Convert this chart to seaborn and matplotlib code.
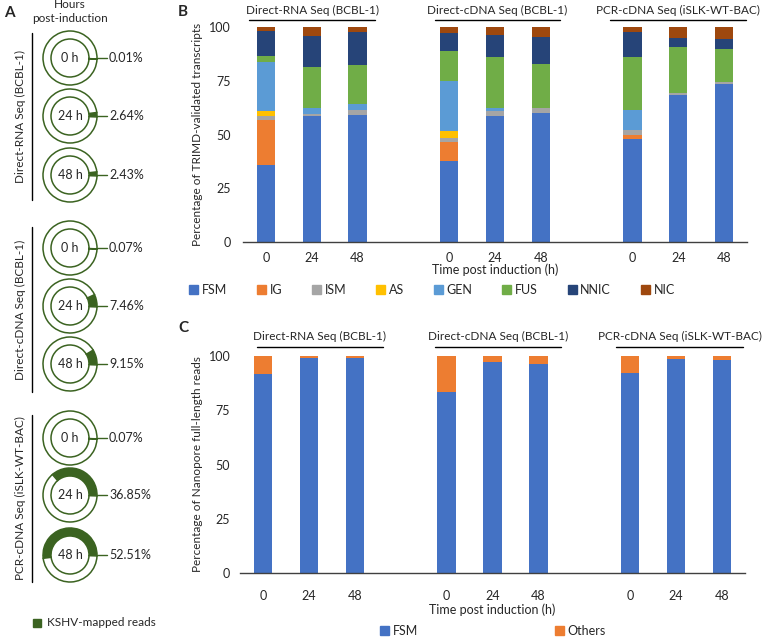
import numpy as np
import pandas as pd
import seaborn as sns
import matplotlib.pyplot as plt
from matplotlib.patches import Patch

sns.set_style("white")
plt.rcParams["font.family"] = ["Lato", "DejaVu Sans"]

W, H = 766, 640

# ── Data ──────────────────────────────────────────────────────────────────────
samples = ["R0", "R24", "R48", "C0", "C24", "C48", "P0", "P24", "P48"]
hours = ["0", "24", "48"] * 3
groups = ["Direct-RNA Seq (BCBL-1)", "Direct-cDNA Seq (BCBL-1)",
          "PCR-cDNA Seq (iSLK-WT-BAC)"]

# panel A: share of KSHV-mapped reads
kshv_pct = [0.01, 2.64, 2.43, 0.07, 7.46, 9.15, 0.07, 36.85, 52.51]
ring_hours = ["0 h", "24 h", "48 h"] * 3

# panel B: TRIMD-validated transcript classes (segment heights, %)
classes = ["FSM", "IG", "ISM", "AS", "GEN", "FUS", "NNIC", "NIC"]
fsm  = [35.6, 58.4, 59.1, 37.8, 58.7, 60.2, 47.8, 68.6, 73.4]
ig   = [21.2, 0.0, 0.0, 8.6, 0.0, 0.0, 2.2, 0.0, 0.0]
ism  = [1.9, 1.2, 2.4, 2.2, 2.3, 2.3, 2.2, 0.7, 1.2]
as_  = [2.3, 0.0, 0.0, 2.8, 0.0, 0.0, 0.0, 0.0, 0.0]
gen  = [22.6, 2.6, 2.7, 23.7, 1.4, 0.0, 9.3, 0.0, 0.0]
fus  = [2.9, 19.1, 18.0, 13.9, 23.5, 20.3, 24.7, 21.3, 15.2]
nnic = [11.6, 14.7, 15.5, 8.4, 10.4, 12.7, 11.3, 4.3, 4.6]
nic  = [1.9, 4.0, 2.3, 2.6, 3.7, 4.5, 2.5, 5.1, 5.6]

# panel C: full-length reads
reads_fsm    = [91.7, 99.2, 99.1, 83.6, 97.1, 96.5, 92.3, 98.6, 98.3]
reads_others = [8.3, 0.8, 0.9, 16.4, 2.9, 3.5, 7.7, 1.4, 1.7]

colors = {"FSM": "#4472C4", "IG": "#ED7D31", "ISM": "#A5A5A5", "AS": "#FFC000",
          "GEN": "#5B9BD5", "FUS": "#70AD47", "NNIC": "#264478", "NIC": "#9E480E",
          "Others": "#ED7D31"}
GREEN = "#3B6321"

# category order with empty slots between the three groups
order = ["R0", "R24", "R48", "gap1", "C0", "C24", "C48", "gap2", "P0", "P24", "P48"]
tick_pos = [0, 1, 2, 4, 5, 6, 8, 9, 10]


def stacked(ax, seg_table, names):
    rows = []
    for i, s in enumerate(samples):
        top = 0.0
        for name in names:
            top += seg_table[name][i]
            rows.append({"sample": s, "cls": name, "top": top})
    df = pd.DataFrame(rows)
    # draw cumulative tops from the highest down so each layer covers the next
    for name in reversed(names):
        sns.barplot(data=df[df["cls"] == name], x="sample", y="top", order=order,
                    color=colors[name], saturation=1, width=0.4, errorbar=None,
                    linewidth=0, ax=ax)


def style(ax, ypad, xpad, ylabel):
    ax.set_ylim(0, 100)
    ax.set_xlim(-0.5, 10.5)
    ax.set_yticks([0, 25, 50, 75, 100])
    ax.set_xticks(tick_pos, hours)
    ax.tick_params(axis="both", length=0, labelsize=9)
    ax.tick_params(axis="y", pad=ypad)
    ax.tick_params(axis="x", pad=xpad)
    for sp in ["top", "right", "left"]:
        ax.spines[sp].set_visible(False)
    ax.spines["bottom"].set_color("#404040")
    ax.spines["bottom"].set_linewidth(1.0)
    ax.set_ylabel(ylabel, fontsize=8.5, labelpad=4)


def headers(ax, spans, ty, ly):
    trans = ax.get_xaxis_transform()
    for name, (x0, x1) in zip(groups, spans):
        ax.text((x0 + x1) / 2, ty, name, transform=trans, ha="center", va="center",
                fontsize=8.5, clip_on=False)
        ax.plot([x0, x1], [ly, ly], color="black", lw=1, transform=trans, clip_on=False)


fig = plt.figure(figsize=(W / 100, H / 100), dpi=100)

# ── Panel A (pixel-coordinate overlay) ───────────────────────────────────────
axA = fig.add_axes([0, 0, 1, 1])
axA.set_facecolor("none")
ring_y = [58, 116, 175, 248, 306, 364, 438, 495, 555]
cx, r_out, r_in = 70, 27, 19
for p, lab, y in zip(kshv_pct, ring_hours, ring_y):
    yy = H - y
    axA.pie([p, 100 - p], center=(cx, yy), radius=r_out, startangle=-2,
            counterclock=True, colors=[GREEN, "white"], frame=True,
            wedgeprops=dict(width=r_out - r_in, edgecolor=GREEN, linewidth=1.1))
    axA.text(cx, yy, lab, ha="center", va="center", fontsize=9)
    axA.plot([cx + r_out, cx + r_out + 10], [yy, yy], color=GREEN, lw=1)
    axA.text(cx + r_out + 12, yy, f"{p:.2f}%", ha="left", va="center", fontsize=9)

for name, (y0, y1) in zip(groups, [(33, 200), (227, 392), (415, 582)]):
    axA.plot([32, 32], [H - y0, H - y1], color="black", lw=1)
    axA.text(20, H - (y0 + y1) / 2, name, rotation=90, ha="center", va="center",
             fontsize=8.5)

axA.text(70, H - 5, "Hours", ha="center", va="center", fontsize=8.5)
axA.text(70, H - 19, "post-induction", ha="center", va="center", fontsize=8.5)
axA.add_patch(plt.Rectangle((33, H - 627), 8, 8, color=GREEN))
axA.text(47, H - 623, "KSHV-mapped reads", ha="left", va="center", fontsize=8.5)
axA.text(4, H - 13, "A", ha="left", va="center", fontsize=11, fontweight="bold")
axA.text(178, H - 12, "B", ha="left", va="center", fontsize=11, fontweight="bold")
axA.text(178, H - 328, "C", ha="left", va="center", fontsize=11, fontweight="bold")
axA.set_xlim(0, W)
axA.set_ylim(0, H)
axA.set_aspect("auto")
axA.axis("off")

# ── Panel B ──────────────────────────────────────────────────────────────────
axB = fig.add_axes([243 / W, (H - 242) / H, 504 / W, 215 / H])
seg_b = dict(zip(classes, [fsm, ig, ism, as_, gen, fus, nnic, nic]))
stacked(axB, seg_b, classes)
style(axB, 9, 7, "Percentage of TRIMD-validated transcripts")
axB.set_xlabel("Time post induction (h)", fontsize=9, labelpad=0)
headers(axB, [(-0.37, 2.39), (3.70, 6.41), (7.5, 10.48)], 1.079, 1.033)
fig.legend(handles=[Patch(color=colors[c], label=c) for c in classes],
           loc="center", bbox_to_anchor=(432 / W, 1 - 290 / H), ncol=8,
           frameon=False, fontsize=9, handlelength=0.7, handleheight=0.7,
           handletextpad=0.3, columnspacing=2.4)

# ── Panel C ──────────────────────────────────────────────────────────────────
axC = fig.add_axes([240 / W, (H - 573) / H, 505 / W, 217 / H])
seg_c = {"FSM": reads_fsm, "Others": reads_others}
stacked(axC, seg_c, ["FSM", "Others"])
style(axC, 7, 12, "Percentage of Nanopore full-length reads")
axC.set_xlabel("Time post induction (h)", fontsize=9, labelpad=1)
headers(axC, [(-0.13, 2.61), (3.75, 6.49), (7.7, 10.45)], 1.092, 1.041)
fig.legend(handles=[Patch(color=colors[c], label=c) for c in ["FSM", "Others"]],
           loc="center", bbox_to_anchor=(493 / W, 1 - 631 / H), ncol=2,
           frameon=False, fontsize=9, handlelength=0.7, handleheight=0.7,
           handletextpad=0.3, columnspacing=11.0)

fig.savefig("out.png", dpi=100)
